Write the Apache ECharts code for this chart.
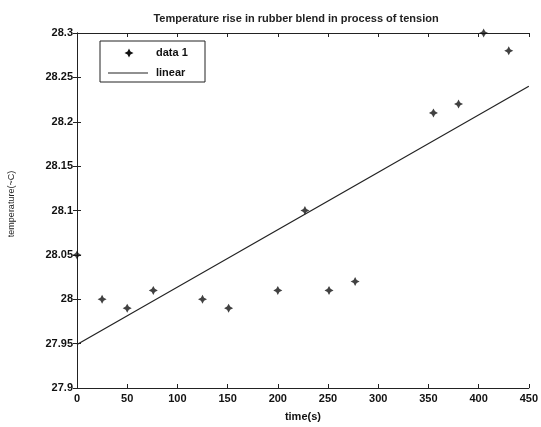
<!DOCTYPE html>
<html><head><meta charset="utf-8">
<script src="https://cdn.jsdelivr.net/npm/echarts@6/dist/echarts.min.js"></script>
<style>html,body{margin:0;padding:0;background:#fff}#c{width:541px;height:427px}</style>
</head><body><div id="c"></div>
<script>
const timeS = [0, 25, 50, 76, 125, 151, 200, 227, 251, 277, 355, 380, 405, 430];
const tempC = [28.05, 28.00, 27.99, 28.01, 28.00, 27.99, 28.01, 28.10, 28.01, 28.02, 28.21, 28.22, 28.30, 28.28];
const fitX = [0, 450];
const fitY = [27.949, 28.240];
const xTicks = [0, 50, 100, 150, 200, 250, 300, 350, 400, 450];
const yTicks = [27.9, 27.95, 28, 28.05, 28.1, 28.15, 28.2, 28.25, 28.3];
const titleText = 'Temperature rise in rubber blend in process of tension';
const xName = 'time(s)';
const yName = 'temperature(~C)';
const seriesNames = ['data 1', 'linear'];

const star = 'path://M0,-10 L3.5,-3.5 L10,0 L3.5,3.5 L0,10 L-3.5,3.5 L-10,0 L-3.5,-3.5Z';
const font = 'Liberation Sans, Arial, sans-serif';
const chart = echarts.init(document.getElementById('c'));
const fmt = v => String(+(+v).toFixed(2));
const lab = {color:'#111', fontFamily:font, fontSize:11, fontWeight:'bold'};
chart.setOption({
  backgroundColor:'#fff',
  animation:false,
  title:{text:titleText, left:291, top:8, textAlign:'center',
    textStyle:{fontFamily:font, fontSize:11, fontWeight:'bold', color:'#222'}},
  grid:{left:77, right:10, top:33, bottom:35},
  xAxis:[{type:'value', min:0, max:450, interval:50, position:'bottom',
    axisLine:{lineStyle:{color:'#222', width:1}},
    axisTick:{inside:true, length:4, lineStyle:{color:'#222'}},
    axisLabel:{...lab, margin:5, formatter:fmt},
    splitLine:{show:false},
    name:xName, nameLocation:'middle', nameGap:23, nameTextStyle:{...lab}},
   {type:'value', min:0, max:450, interval:50, position:'top',
    axisLine:{lineStyle:{color:'#222'}},
    axisTick:{inside:true, length:4, lineStyle:{color:'#222'}},
    axisLabel:{show:false}, splitLine:{show:false}}],
  yAxis:[{type:'value', min:27.9, max:28.3, interval:0.05, position:'left',
    axisLine:{lineStyle:{color:'#222'}},
    axisTick:{inside:true, length:4, lineStyle:{color:'#222'}},
    axisLabel:{...lab, margin:4, formatter:fmt},
    splitLine:{show:false}},
   {type:'value', min:27.9, max:28.3, interval:0.05, position:'right',
    axisLine:{lineStyle:{color:'#222'}},
    axisTick:{inside:true, length:4, lineStyle:{color:'#222'}},
    axisLabel:{show:false}, splitLine:{show:false}}],
  series:[
    {name:seriesNames[0], type:'scatter', data:timeS.map((x,i)=>[x,tempC[i]]),
     symbol:star, symbolSize:9, itemStyle:{color:'#111'}, clip:false},
    {name:seriesNames[1], type:'line', data:fitX.map((x,i)=>[x,fitY[i]]),
     symbol:'none', lineStyle:{color:'#222', width:1.2}}
  ],
  graphic:[
    {type:'rect', shape:{x:100, y:41, width:105, height:41}, style:{fill:'#fff', stroke:'#222', lineWidth:1}},
    {type:'polygon', shape:{points:[[129,48.5],[130.5,51.5],[133.5,53],[130.5,54.5],[129,57.5],[127.5,54.5],[124.5,53],[127.5,51.5]]}, style:{fill:'#111'}},
    {type:'text', left:156, top:47, style:{text:seriesNames[0], font:'bold 11px '+font, fill:'#111'}},
    {type:'line', shape:{x1:108, y1:73, x2:148, y2:73}, style:{stroke:'#222', lineWidth:1.2}},
    {type:'text', left:156, top:67, style:{text:seriesNames[1], font:'bold 11px '+font, fill:'#111'}},
    {type:'text', x:12, y:204, rotation:Math.PI/2, style:{text:yName, font:'9px '+font, fill:'#222', align:'center', verticalAlign:'middle'}}
  ]
});
</script></body></html>
